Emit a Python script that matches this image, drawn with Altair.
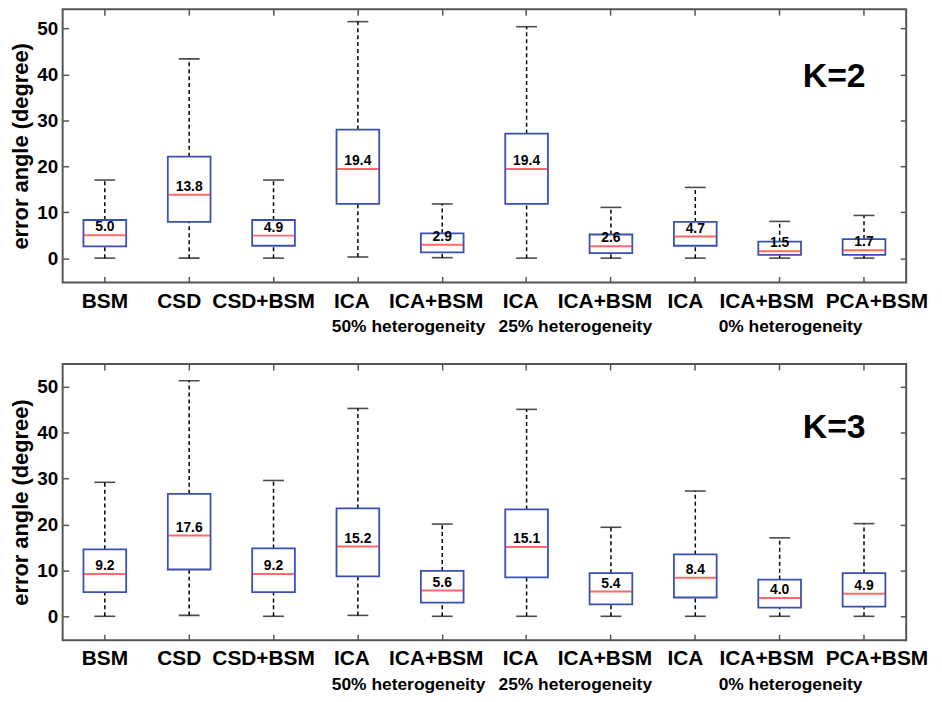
import altair as alt
import pandas as pd

# ---------------- data ----------------
keys = ["BSM", "CSD", "CSD+BSM", "ICA_50", "ICA+BSM_50", "ICA_25",
        "ICA+BSM_25", "ICA_0", "ICA+BSM_0", "PCA+BSM"]

# K = 2
k2_min = [0.0, 0.0, 0.0, 0.25, 0.1, 0.0, 0.0, 0.0, 0.0, 0.0]
k2_q1 = [2.55, 7.9, 2.7, 11.8, 1.25, 11.8, 1.1, 2.7, 0.7, 0.7]
k2_med = [5.0, 13.8, 4.9, 19.4, 2.9, 19.4, 2.6, 4.7, 1.5, 1.7]
k2_q3 = [8.3, 22.1, 8.3, 28.0, 5.4, 27.1, 5.15, 7.9, 3.6, 4.15]
k2_max = [17.0, 43.4, 17.0, 51.5, 11.8, 50.4, 11.05, 15.4, 8.0, 9.3]

# K = 3
k3_min = [0.0, 0.2, 0.0, 0.2, 0.0, 0.0, 0.0, 0.0, 0.0, 0.0]
k3_q1 = [5.25, 10.2, 5.25, 8.7, 3.0, 8.5, 2.6, 4.1, 1.9, 2.1]
k3_med = [9.2, 17.6, 9.2, 15.2, 5.6, 15.1, 5.4, 8.4, 4.0, 4.9]
k3_q3 = [14.6, 26.7, 14.8, 23.5, 9.9, 23.3, 9.4, 13.5, 8.0, 9.4]
k3_max = [29.2, 51.35, 29.6, 45.3, 20.1, 45.1, 19.4, 27.3, 17.1, 20.2]

group_names = ["50% heterogeneity", "25% heterogeneity", "0% heterogeneity"]
group_anchor = ["ICA_50", "ICA_25", "ICA+BSM_0"]
group_dx = [51, 49, 11]

y_ticks = [0, 10, 20, 30, 40, 50]

FONT = "Liberation Sans"
FRAME = "#555555"
BLUE = "#3a4fb3"
RED = "#ff2a2a"
W = 849

# horizontal nudges of the category labels (as in the reference figure)
label_offset = {
    "condition": [
        {"test": "datum.value == 'BSM'", "value": 0},
        {"test": "datum.value == 'PCA+BSM'", "value": 13},
        {"test": "datum.value == 'ICA+BSM_0'", "value": -13},
        {"test": "datum.value == 'CSD' || datum.value == 'CSD+BSM' || datum.value == 'ICA_0'", "value": -10},
    ],
    "value": -6,
}


def panel(mins, q1, med, q3, maxs, ktext, ky, domain, height):
    df = pd.DataFrame({"key": keys, "wmin": mins, "q1": q1, "med": med,
                       "q3": q3, "wmax": maxs,
                       "lbl": [f"{m:.1f}" for m in med]})
    base = alt.Chart(df)
    xsc = alt.Scale(domain=keys, padding=0)
    ysc = alt.Scale(domain=domain, nice=False, zero=False)

    def X(axis):
        return alt.X("key:N", sort=keys, scale=xsc, axis=axis)

    ax_bottom = alt.Axis(orient="bottom", title=None, offset=-6, tickSize=6,
                         tickWidth=1.5, domain=False, grid=False, tickColor=FRAME,
                         labelExpr="split(datum.label, '_')[0]",
                         labelFont=FONT, labelFontSize=21, labelFontWeight="bold",
                         labelColor="black", labelPadding=8, labelAngle=0,
                         labelOffset=label_offset, labelOverlap=False)
    ax_top = alt.Axis(orient="top", title=None, offset=-6, tickSize=6, tickWidth=1.5,
                      domain=False, grid=False, tickColor=FRAME, labels=False)
    ax_left = alt.Axis(orient="left", values=y_ticks, title="error angle (degree)",
                       offset=-6, tickSize=6, tickWidth=1.5, domain=False, grid=False,
                       tickColor=FRAME, labelFont=FONT, labelFontSize=19,
                       labelFontWeight="bold", labelColor="black", labelPadding=5,
                       titleFont=FONT, titleFontSize=22, titleFontWeight="bold",
                       titleColor="black", titlePadding=4)
    ax_right = alt.Axis(orient="right", values=y_ticks, title=None, offset=-6,
                        tickSize=6, tickWidth=1.5, domain=False, grid=False,
                        tickColor=FRAME, labels=False)

    low = base.mark_rule(color="black", strokeWidth=1.5, strokeDash=[4, 3]).encode(
        x=X(ax_bottom), y=alt.Y("wmin:Q", scale=ysc, axis=ax_left), y2="q1:Q")
    high = base.mark_rule(color="black", strokeWidth=1.5, strokeDash=[4, 3]).encode(
        x=X(ax_top), y=alt.Y("q3:Q", scale=ysc, axis=ax_right), y2="wmax:Q")
    cap_lo = base.mark_tick(color="black", size=21, thickness=1.6).encode(
        x=X(None), y=alt.Y("wmin:Q", scale=ysc, axis=None))
    cap_hi = base.mark_tick(color="black", size=21, thickness=1.6).encode(
        x=X(None), y=alt.Y("wmax:Q", scale=ysc, axis=None))
    box = base.mark_bar(size=43, fill="white", stroke=BLUE, strokeWidth=1.8).encode(
        x=X(None), y=alt.Y("q1:Q", scale=ysc, axis=None), y2="q3:Q")
    median = base.mark_tick(color=RED, size=42, thickness=2).encode(
        x=X(None), y=alt.Y("med:Q", scale=ysc, axis=None))
    mlabel = base.mark_text(font=FONT, fontSize=14, fontWeight="bold", color="black",
                            baseline="middle", dy=-8).encode(
        x=X(None), y=alt.Y("med:Q", scale=ysc, axis=None), text="lbl:N")

    kdf = pd.DataFrame({"key": ["PCA+BSM"], "y": [ky], "t": [ktext]})
    klabel = alt.Chart(kdf).mark_text(font=FONT, fontSize=34, fontWeight="bold",
                                      color="black", baseline="middle", dx=-30).encode(
        x=X(None), y=alt.Y("y:Q", scale=ysc, axis=None), text="t:N")

    layers = [low, high, box, cap_lo, cap_hi, median, mlabel, klabel]
    for name, anchor, dx in zip(group_names, group_anchor, group_dx):
        gdf = pd.DataFrame({"key": [anchor], "t": [name]})
        layers.append(alt.Chart(gdf).mark_text(
            font=FONT, fontSize=17.5, fontWeight="bold", color="black",
            baseline="middle", dx=dx, clip=False).encode(
            x=X(None), y=alt.value(height + 45), text="t:N"))

    return alt.layer(*layers).resolve_axis(x="independent", y="independent").properties(
        width=W, height=height)


top = panel(k2_min, k2_q1, k2_med, k2_q3, k2_max, "K=2", 39.5, [-5.3, 54.2], 275)
bottom = panel(k3_min, k3_q1, k3_med, k3_q3, k3_max, "K=3", 41.1, [-5.2, 55.0], 278)

chart = alt.vconcat(top, bottom, spacing=25).properties(
    padding={"left": 0, "top": -3, "right": 5, "bottom": 5},
    background="white",
).configure_view(stroke=FRAME, strokeWidth=2)

chart.save("out.html", embed_options={"renderer": "svg", "actions": False})
